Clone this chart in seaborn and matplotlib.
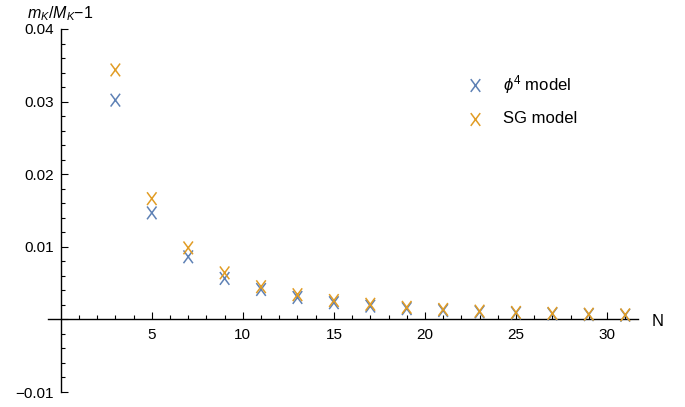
import matplotlib
matplotlib.use("Agg")
import matplotlib.pyplot as plt
import matplotlib.ticker as mticker
from matplotlib.path import Path
import seaborn as sns
import pandas as pd

N_vals = [3, 5, 7, 9, 11, 13, 15, 17, 19, 21, 23, 25, 27, 29, 31]
phi4_vals = [0.0302, 0.01467, 0.00862, 0.00564, 0.00412, 0.00302, 0.00230, 0.00183,
             0.00148, 0.00122, 0.00102, 0.00087, 0.00075, 0.00065, 0.00057]
sg_vals = [0.03436, 0.01663, 0.00985, 0.00641, 0.00450, 0.00340, 0.00260, 0.00208,
           0.00166, 0.00137, 0.00114, 0.00096, 0.00083, 0.00072, 0.00063]
series_labels = [r"$\phi^4$ model", "SG model"]
x_major = [5, 10, 15, 20, 25, 30]
y_major = [-0.01, 0.0, 0.01, 0.02, 0.03, 0.04]

sns.set_style("white")
plt.rcParams['font.family'] = ['Liberation Sans', 'DejaVu Sans']
plt.rcParams['mathtext.fontset'] = 'custom'
plt.rcParams['mathtext.it'] = 'Liberation Sans:italic'
plt.rcParams['mathtext.rm'] = 'Liberation Sans'
plt.rcParams['text.color'] = 'black'
plt.rcParams['xtick.color'] = 'black'
plt.rcParams['ytick.color'] = 'black'

# letter-like X marker (slightly taller than wide)
xmark = Path([(-0.37, -0.5), (0.37, 0.5), (-0.37, 0.5), (0.37, -0.5)],
             [Path.MOVETO, Path.LINETO, Path.MOVETO, Path.LINETO])

df = pd.DataFrame({
    "N": N_vals * 2,
    "val": phi4_vals + sg_vals,
    "model": [series_labels[0]] * len(N_vals) + [series_labels[1]] * len(N_vals),
})

fig = plt.figure(figsize=(6.85, 4.07), dpi=100)
ax = fig.add_axes([48 / 685, (407 - 392) / 407, 590 / 685, 363 / 407])

palette = {series_labels[0]: "#5E81B5", series_labels[1]: "#E19C24"}
sns.scatterplot(data=df, x="N", y="val", hue="model", palette=palette, marker=xmark,
                s=85, linewidth=1.1, edgecolor="face", ax=ax, legend=False, zorder=3)

ax.set_xlim(-0.7, 31.7)
ax.set_ylim(-0.01, 0.04)
for s in ["top", "right"]:
    ax.spines[s].set_visible(False)
ax.spines["left"].set_position(("data", 0))
ax.spines["bottom"].set_position(("data", 0))
for s in ["left", "bottom"]:
    ax.spines[s].set_color("black")
    ax.spines[s].set_linewidth(1.0)

ax.set_xticks(x_major)
ax.set_xticks([i for i in range(1, 32) if i not in x_major], minor=True)
ax.set_yticks(y_major)
ax.set_yticks([round(-0.01 + 0.002 * i, 4) for i in range(26)], minor=True)
ax.yaxis.set_major_formatter(mticker.FuncFormatter(
    lambda v, p: "" if abs(v) < 1e-9 else ("\u22120.01" if v < 0 else f"{v:.2f}")))
ax.tick_params(axis="both", which="both", bottom=True, left=True, top=False, right=False)
ax.tick_params(axis="both", which="major", direction="in", length=5.2, width=0.8,
               labelsize=11, color="black", labelcolor="black")
ax.tick_params(axis="both", which="minor", direction="in", length=3.2, width=0.8, color="black")
ax.tick_params(axis="x", which="major", pad=6)
ax.tick_params(axis="y", which="major", pad=5)
ax.set_xlabel("")
ax.set_ylabel("")
ax.grid(False)

# legend
leg_x_marker = 475
leg_x_text = 503
for lbl, ypix in zip(series_labels, [85, 119]):
    fy = 1 - ypix / 407
    fig.lines.append(matplotlib.lines.Line2D([leg_x_marker / 685], [fy], marker=xmark,
                     markersize=9.2, markeredgewidth=1.1, color=palette[lbl],
                     linestyle="none", transform=fig.transFigure))
    fig.text(leg_x_text / 685, fy, lbl, fontsize=12, va="center", ha="left")

fig.text(27 / 685, 1 - 14 / 407, r"$m_K/M_K$" + "\u22121", fontsize=11.5, va="center", ha="left")
fig.text(652 / 685, 1 - 321 / 407, "N", fontsize=12, va="center", ha="left")

fig.savefig("out.png", dpi=100)
